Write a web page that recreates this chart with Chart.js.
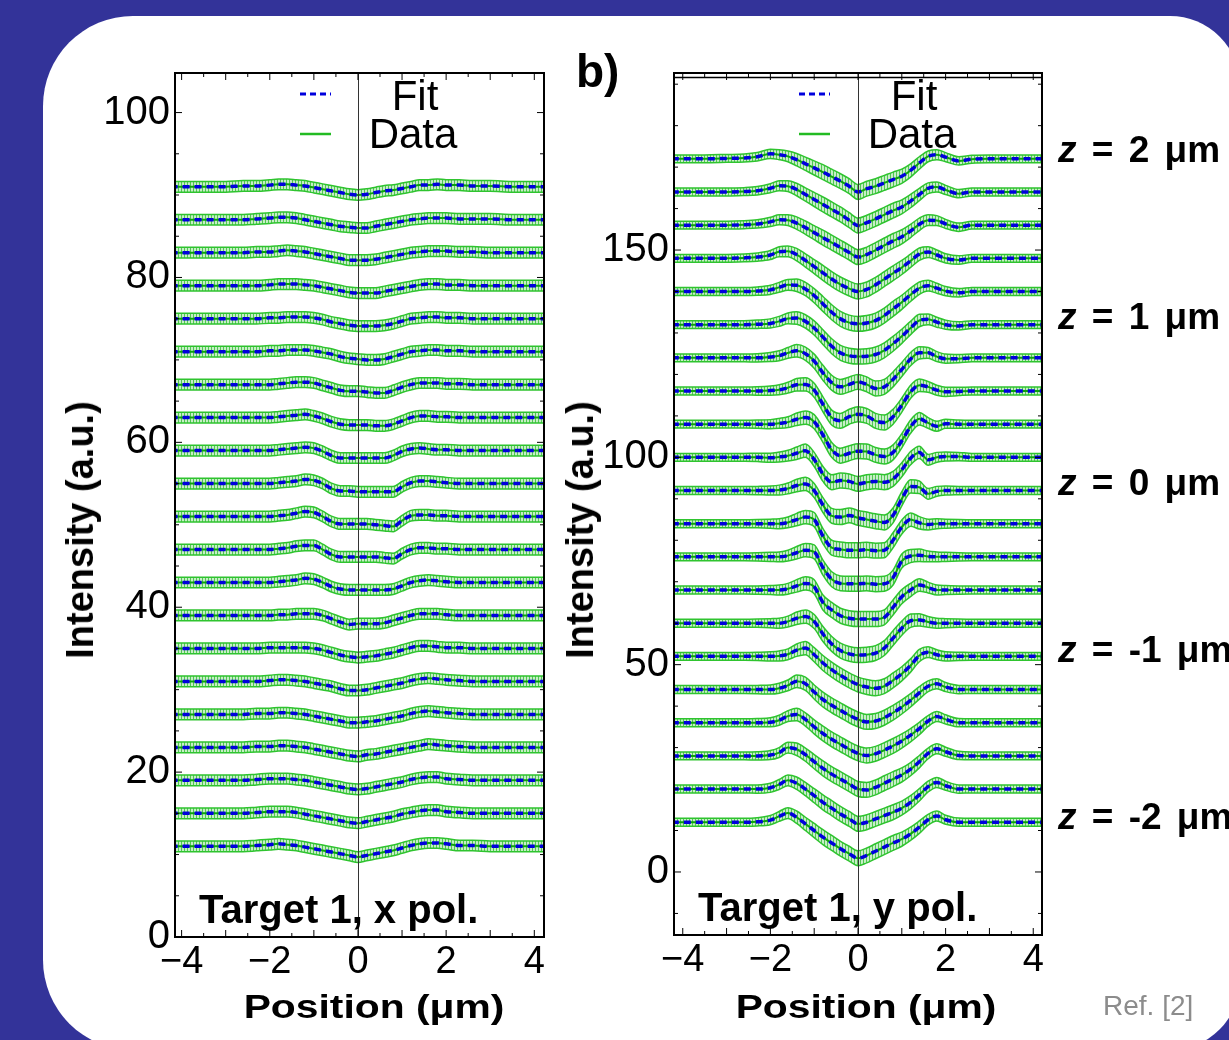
<!DOCTYPE html>
<html>
<head>
<meta charset="utf-8">
<script src="https://cdn.jsdelivr.net/npm/chart.js@4.4.0/dist/chart.umd.min.js"></script>
<style>
  html, body { margin: 0; padding: 0; }
  body {
    width: 1229px; height: 1040px; overflow: hidden; position: relative;
    background: #333399; font-family: "Liberation Sans", Arial, sans-serif;
  }
  .panel {
    position: absolute; left: 43px; top: 16px; width: 1197px; height: 1034px;
    background: #fff; border-radius: 90px 70px 70px 90px;
  }
  .box { position: absolute; top: 40px; }
  .t { position: absolute; white-space: nowrap; line-height: 1; color: #000; }
  .b { font-weight: bold; }
  .ytitle { font-size: 38px; transform: translate(-50%, -50%) rotate(-90deg); }
  .xtitle { font-size: 34px; transform: translate(-50%, -50%) scaleX(1.2); }
  .z { left: 1058px; font-size: 37px; word-spacing: 5px; }
  .ref { left: 1103px; top: 992px; font-size: 28px; color: #8c8c8c; }
</style>
</head>
<body>
<div class="panel"></div>
<div class="box" style="left:40px"><canvas id="xpol" width="530" height="1000"></canvas></div>
<div class="box" style="left:590px"><canvas id="ypol" width="480" height="1000"></canvas></div>

<div class="t b" style="left:576px;top:48px;font-size:46px">b)</div>
<div class="t b ytitle" style="left:80px;top:530px">Intensity (a.u.)</div>
<div class="t b ytitle" style="left:580px;top:530px">Intensity (a.u.)</div>
<div class="t b xtitle" style="left:374px;top:1006px">Position (μm)</div>
<div class="t b xtitle" style="left:866px;top:1006px">Position (μm)</div>
<div class="t b z" style="top:131px"><i>z</i> = 2 μm</div>
<div class="t b z" style="top:298px"><i>z</i> = 1 μm</div>
<div class="t b z" style="top:464px"><i>z</i> = 0 μm</div>
<div class="t b z" style="top:631px"><i>z</i> = -1 μm</div>
<div class="t b z" style="top:798px"><i>z</i> = -2 μm</div>
<div class="t ref">Ref. [2]</div>

<script>
// sample positions (µm) shared by every trace
const positionsUm = [-4.25, -3.5, -3, -2.6, -2.3, -2, -1.8, -1.6, -1.4, -1.2, -1, -0.8, -0.6, -0.4, -0.2, 0,
  0.2, 0.4, 0.6, 0.8, 1, 1.2, 1.4, 1.6, 1.8, 2, 2.3, 2.6, 3, 3.5, 4.25];

// baseline of each trace, bottom to top
const xPolOffsets = [11, 15, 19, 23, 27, 31, 35, 39, 43, 47, 51, 55, 59, 63, 67, 71, 75, 79, 83, 87, 91];
const yPolOffsets = [12, 20, 28, 36, 44, 52, 60, 68, 76, 84, 92, 100, 108, 116, 124, 132, 140, 148, 156, 164, 172];

// deviation from baseline at each position, bottom trace first
const xPolProfiles = [
  [0,0,0,0,0.1,0.2,0.3,0.2,0.1,-0.1,-0.3,-0.5,-0.7,-0.9,-1.1,-1.3,-1.1,-0.9,-0.7,-0.5,-0.2,0.1,0.3,0.4,0.4,0.3,0.1,0.1,0,0,0],
  [0,0,0,0,0.1,0.2,0.2,0.2,0.1,-0.1,-0.3,-0.5,-0.7,-0.9,-1.1,-1.2,-1.0,-0.8,-0.6,-0.4,-0.1,0.1,0.3,0.4,0.4,0.2,0.1,0,0,0,0],
  [0,0,0,0,0.1,0.2,0.2,0.2,0.1,0,-0.2,-0.4,-0.6,-0.8,-1.0,-1.1,-1.0,-0.8,-0.6,-0.4,-0.2,0.1,0.3,0.4,0.4,0.2,0.1,0,0,0,0],
  [0,0,0,0,0.1,0.1,0.2,0.2,0.1,0,-0.2,-0.4,-0.6,-0.8,-1.0,-1.1,-0.9,-0.8,-0.6,-0.4,-0.2,0,0.2,0.4,0.3,0.2,0.1,0,0,0,0],
  [0,0,0,0,0.1,0.1,0.2,0.2,0.1,0,-0.2,-0.4,-0.6,-0.8,-1.0,-1.0,-0.9,-0.8,-0.6,-0.4,-0.2,0.1,0.3,0.4,0.3,0.2,0.1,0,0,0,0],
  [0,0,0,0,0,0.1,0.2,0.2,0.1,0,-0.2,-0.4,-0.6,-0.9,-1.1,-1.1,-1.0,-0.8,-0.6,-0.4,-0.2,0.1,0.3,0.4,0.3,0.2,0.1,0,0,0,0],
  [0,0,0,0,0,0.1,0.1,0.1,0.1,0.1,0,-0.2,-0.5,-0.8,-1.0,-1.1,-1.0,-0.9,-0.7,-0.5,-0.2,0.1,0.3,0.3,0.2,0.1,0.1,0,0,0,0],
  [0,0,0,0,0,0,0.1,0.1,0.2,0.2,0.2,0,-0.4,-0.8,-1.1,-1.0,-1.0,-1.0,-0.9,-0.6,-0.3,0,0.2,0.2,0.2,0.1,0,0,0,0,0],
  [0,0,0,0,0,0,0.1,0.2,0.3,0.5,0.4,0,-0.5,-0.8,-0.9,-0.9,-0.9,-0.9,-0.9,-0.8,-0.4,0,0.2,0.3,0.2,0.1,0,0,0,0,0],
  [0,0,0,0,0,0,0.1,0.2,0.4,0.5,0.5,0,-0.6,-0.9,-0.9,-0.9,-0.9,-0.9,-1.0,-1.1,-0.5,0,0.2,0.2,0.1,0.1,0,0,0,0,0],
  [0,0,0,0,0,0,0.1,0.2,0.4,0.6,0.5,0,-0.6,-0.9,-0.9,-0.9,-0.9,-1.0,-1.1,-1.2,-0.5,0.1,0.2,0.2,0.1,0.1,0,0,0,0,0],
  [0,0,0,0,0,0,0.1,0.2,0.3,0.5,0.4,0,-0.6,-0.9,-0.9,-1.0,-1.0,-1.0,-1.0,-1.0,-0.4,0.1,0.3,0.3,0.2,0.1,0,0,0,0,0],
  [0,0,0,0,0,0,0.1,0.2,0.3,0.4,0.3,-0.1,-0.6,-0.9,-0.9,-0.9,-0.9,-0.9,-0.9,-0.6,-0.1,0.2,0.3,0.2,0.1,0.1,0,0,0,0,0],
  [0,0,0,0,0,0,0.1,0.2,0.3,0.4,0.2,-0.1,-0.5,-0.8,-0.9,-0.9,-0.9,-1.0,-1.0,-0.8,-0.4,0,0.2,0.2,0.1,0.1,0,0,0,0,0],
  [0,0,0,0,0,0,0.1,0.2,0.3,0.3,0.2,-0.1,-0.4,-0.7,-0.8,-0.8,-0.9,-1.0,-1.0,-0.7,-0.3,0,0.2,0.2,0.2,0.1,0.1,0,0,0,0],
  [0,0,0,0,0,0.1,0.1,0.2,0.2,0.2,0.1,-0.1,-0.3,-0.6,-0.8,-0.9,-1.0,-1.0,-0.9,-0.6,-0.3,0,0.1,0.2,0.2,0.1,0.1,0,0,0,0],
  [0,0,0,0,0,0.1,0.1,0.2,0.2,0.2,0.1,-0.1,-0.4,-0.6,-0.8,-0.9,-0.9,-0.9,-0.8,-0.6,-0.3,0,0.1,0.2,0.2,0.1,0.1,0,0,0,0],
  [0,0,0,0,0,0.1,0.2,0.2,0.2,0.1,0,-0.2,-0.4,-0.6,-0.8,-0.9,-0.9,-0.9,-0.7,-0.5,-0.3,-0.1,0.1,0.2,0.2,0.1,0.1,0,0,0,0],
  [0,0,0,0,0.1,0.1,0.2,0.3,0.2,0.1,-0.1,-0.3,-0.5,-0.7,-0.9,-0.9,-0.9,-0.8,-0.6,-0.4,-0.2,0,0.1,0.2,0.2,0.2,0.1,0.1,0,0,0],
  [0,0,0,0,0.1,0.2,0.3,0.3,0.2,0,-0.2,-0.4,-0.6,-0.8,-0.9,-1.0,-1.0,-0.8,-0.6,-0.4,-0.2,0,0.1,0.2,0.2,0.2,0.1,0.1,0.1,0,0],
  [0,0,0,0.1,0.1,0.2,0.3,0.3,0.2,0.1,-0.1,-0.3,-0.5,-0.7,-0.9,-1.0,-0.9,-0.7,-0.5,-0.4,-0.2,0,0.2,0.2,0.3,0.2,0.2,0.1,0.1,0,0]
];

const yPolProfiles = [
  [0,0,0,0,0.1,0.5,1.4,2.2,1.2,-0.4,-2.0,-3.6,-5.0,-6.4,-7.6,-8.7,-8.0,-7.0,-6.0,-5.0,-4.1,-2.8,-1.2,0.6,1.5,0.6,0,0,0,0,0],
  [0,0,0,0,0,0.3,1.1,2.1,1.4,0,-1.6,-3.2,-4.6,-6.0,-7.2,-8.4,-8.0,-7.2,-6.4,-5.6,-4.6,-3.2,-1.4,0.6,1.6,0.8,0,0,0,0,0],
  [0,0,0,0,0,0.2,0.8,2.0,1.6,0.3,-1.4,-3.0,-4.4,-5.6,-6.8,-8.0,-8.2,-7.6,-6.6,-5.6,-4.6,-3.2,-1.4,0.6,1.7,1.0,0.1,0,0,0,0],
  [0,0,0,0,0,0.1,0.6,1.6,2.0,0.8,-1.0,-2.6,-4.0,-5.2,-6.4,-7.4,-7.9,-7.5,-6.6,-5.6,-4.4,-3.0,-1.4,0.4,1.5,0.8,0,0,0,0,0],
  [0,0,0,0,0,0,0.3,1.0,2.0,1.4,-0.6,-2.4,-3.8,-5.0,-6.2,-7.2,-7.8,-7.6,-6.8,-5.6,-4.2,-2.6,-0.8,0.8,1.4,0.6,0,0,0,0,0],
  [0,0,0,0,0,0,0.1,0.5,1.5,2.0,0.4,-1.6,-3.2,-4.6,-5.8,-6.8,-7.4,-7.7,-7.2,-5.8,-4.2,-2.2,0.2,1.0,0.4,0,0,0,0,0,0],
  [0,0,0,0,0,0,0,0.4,1.2,1.6,0.4,-2.6,-5.0,-6.6,-7.4,-7.7,-7.6,-7.2,-6.0,-3.6,-1.2,0.6,0.8,0.3,0,0,0,0,0,0,0],
  [0,0,0,0,0,0,0,0.3,1.0,1.6,0.8,-3.0,-4.8,-6.2,-6.8,-7.0,-7.0,-7.0,-6.6,-4.2,-1.6,0,1.2,0.6,0,0,0,0,0,0,0],
  [0,0,0,0,0,0,0,0.3,1.0,1.6,1.2,-2.6,-5.4,-6.4,-6.5,-6.5,-6.4,-6.6,-6.5,-5.0,-1.0,0.2,0.4,0.1,0,0,0,0,0,0,0],
  [0,0,0,0,0,0,0,0.3,1.0,1.6,1.0,-3.0,-5.8,-6.2,-6.4,-6.4,-6.3,-6.5,-6.4,-4.0,-0.8,1.0,0.2,-0.2,0,0,0,0,0,0,0],
  [0,0,0,0,0,0,0.1,0.5,1.2,1.6,0,-3.5,-6.1,-6.4,-6.0,-6.6,-7.0,-7.4,-7.7,-6.0,-2.0,1.0,0.8,-0.8,-0.2,0,0,0,0,0,0],
  [0,0,0,0,0,-0.1,0.1,0.4,1.0,1.6,-0.5,-4.0,-6.0,-5.6,-5.8,-6.4,-6.0,-5.8,-6.0,-5.2,-3.0,-0.2,1.2,-0.6,0,0.2,0.2,0,0,0,0],
  [0,0,0,0,0,0,0.2,0.5,1.2,1.6,0.6,-2.6,-6.2,-7.6,-7.0,-6.5,-6.6,-7.4,-7.8,-6.8,-4.0,-0.6,1.3,0.3,-0.5,0.1,0,0,0,0,0],
  [0,0,0,0,0,0.1,0.3,0.8,1.5,1.6,0.2,-3.2,-6.4,-7.2,-6.2,-5.6,-6.0,-7.2,-7.6,-6.2,-3.4,-0.2,1.4,1.0,0.2,-0.2,-0.1,0,0,0,0],
  [0,0,0,0,0,0.2,0.5,1.2,1.7,1.0,-0.8,-3.6,-6.0,-7.0,-6.4,-5.8,-6.4,-7.4,-7.0,-5.2,-2.8,-0.3,1.2,1.2,0.3,-0.2,-0.2,0,0,0,0],
  [0,0,0,0,0.1,0.3,0.8,1.5,1.6,0.8,-0.8,-3.0,-5.2,-6.8,-7.5,-7.7,-7.6,-7.2,-6.2,-4.6,-2.8,-0.8,1.0,1.3,0.6,0,-0.3,0,0,0,0],
  [0,0,0,0,0.1,0.4,1.0,1.6,1.5,0.6,-1.0,-3.0,-5.0,-6.6,-7.5,-7.8,-7.6,-7.0,-5.8,-4.2,-2.6,-0.8,0.8,1.4,0.8,0.1,-0.3,0,0,0,0],
  [0,0,0,0.1,0.3,0.8,1.6,1.7,0.9,-0.5,-2.0,-3.5,-5.0,-6.3,-7.3,-8.0,-7.5,-6.4,-5.0,-3.6,-2.2,-0.6,1.0,1.5,0.8,0,-0.4,0,0,0,0],
  [0,0,0,0.1,0.3,0.8,1.3,1.2,0.5,-0.6,-1.8,-3.0,-4.2,-5.4,-6.6,-7.7,-7.1,-6.0,-4.9,-3.8,-2.8,-1.4,0.2,1.2,1.1,0.3,-0.5,0,0,0,0],
  [0,0,0,0.1,0.3,0.9,1.5,1.4,0.6,-0.6,-1.8,-3.0,-4.2,-5.4,-6.8,-8.1,-7.4,-6.5,-5.5,-4.5,-3.6,-2.2,-0.6,0.9,1.2,0.5,-0.4,0,0,0,0],
  [0,0,0.1,0.2,0.5,1.2,1.0,0.6,-0.2,-1.2,-2.2,-3.2,-4.3,-5.4,-6.6,-8.0,-7.2,-6.6,-5.8,-5.0,-4.2,-2.8,-1.0,0.6,1.0,0.4,-0.5,-0.1,0,0,0]
];

// half height of the error bars
const xPolErrors = [0.65,0.65,0.65,0.65,0.65,0.65,0.65,0.65,0.65,0.65,0.65,0.65,0.65,0.65,0.65,0.65,0.65,0.65,0.65,0.65,0.65,0.65,0.65,0.65,0.65,0.65,0.65,0.65,0.65,0.65,0.65];
const yPolErrors = [0.95,0.95,0.95,0.95,1.0,1.1,1.2,1.3,1.5,1.6,1.7,1.8,1.8,1.8,1.8,1.8,1.8,1.8,1.8,1.8,1.7,1.6,1.5,1.3,1.2,1.1,1.0,0.95,0.95,0.95,0.95];

const bandEdge = "#2fc42f";
const dataGreen = "#0ca40c";
const fitBlue = "#0000dd";

Chart.defaults.font.family = '"Liberation Sans", Arial, sans-serif';
Chart.defaults.color = "#000";

// light green with vertical strokes, like a dense row of error bars
function makeHatch(ctx) {
  const c = document.createElement("canvas");
  c.width = 3;
  c.height = 4;
  const g = c.getContext("2d");
  g.fillStyle = "#c6efc6";
  g.fillRect(0, 0, 3, 4);
  g.fillStyle = "#52c752";
  g.fillRect(0, 0, 1, 4);
  return ctx.createPattern(c, "repeat");
}

function traceSets(offsets, profiles, errors, hatch) {
  const sets = [];
  offsets.forEach((base, k) => {
    const mid = positionsUm.map((x, i) => ({ x: x, y: base + profiles[k][i] }));
    const hi = mid.map((p, i) => ({ x: p.x, y: p.y + errors[i] }));
    const lo = mid.map((p, i) => ({ x: p.x, y: p.y - errors[i] }));
    sets.push({ data: hi, borderColor: bandEdge, borderWidth: 1.5, fill: false, order: 3 });
    sets.push({ data: lo, borderColor: bandEdge, borderWidth: 1.5, fill: "-1", backgroundColor: hatch, order: 3 });
    sets.push({ data: mid.map(p => ({ ...p })), borderColor: dataGreen, borderWidth: 2, fill: false, order: 2 });
    sets.push({ data: mid.map(p => ({ ...p })), borderColor: fitBlue, borderWidth: 3.5, borderDash: [7, 5], fill: false, order: 1 });
  });
  return sets;
}

// frame, inward ticks, zero line, legend and panel note
const decor = {
  id: "decor",
  afterDatasetsDraw(chart, args, opts) {
    const { ctx, chartArea: a, scales: { x, y } } = chart;
    const seg = (x1, y1, x2, y2) => { ctx.beginPath(); ctx.moveTo(x1, y1); ctx.lineTo(x2, y2); ctx.stroke(); };
    ctx.save();

    ctx.strokeStyle = "#333";
    ctx.lineWidth = 1;
    const x0 = Math.round(x.getPixelForValue(0)) + 0.5;
    seg(x0, a.top, x0, a.bottom);

    ctx.strokeStyle = "#000";
    for (let i = Math.ceil(x.min / 0.5); i * 0.5 <= x.max; i++) {
      const px = x.getPixelForValue(i * 0.5);
      const len = i % 2 === 0 ? 7 : 4;
      seg(px, a.bottom, px, a.bottom - len);
      seg(px, a.top, px, a.top + len);
    }
    for (let i = Math.ceil(y.min / opts.yMinor); i * opts.yMinor <= y.max; i++) {
      const py = y.getPixelForValue(i * opts.yMinor);
      const len = (i * opts.yMinor) % opts.yMajor === 0 ? 7 : 4;
      seg(a.left, py, a.left + len, py);
      seg(a.right, py, a.right - len, py);
    }

    ctx.lineWidth = 2;
    ctx.strokeRect(a.left, a.top, a.right - a.left, a.bottom - a.top);
    if (opts.doubleTop) {
      ctx.lineWidth = 1.5;
      seg(a.left, a.top + 4.5, a.right, a.top + 4.5);
    }

    // legend
    ctx.lineWidth = 3;
    ctx.strokeStyle = fitBlue;
    ctx.setLineDash([6, 4]);
    seg(a.left + 125, a.top + 21, a.left + 156, a.top + 21);
    ctx.setLineDash([]);
    ctx.lineWidth = 2.5;
    ctx.strokeStyle = "#22bb22";
    seg(a.left + 125, a.top + 61, a.left + 156, a.top + 61);
    ctx.fillStyle = "#000";
    ctx.textAlign = "center";
    ctx.textBaseline = "alphabetic";
    ctx.font = '42px "Liberation Sans", Arial, sans-serif';
    ctx.fillText("Fit", a.left + 240, a.top + 37);
    ctx.fillText("Data", a.left + 238, a.top + 75);

    ctx.textAlign = "left";
    ctx.font = 'bold 40px "Liberation Sans", Arial, sans-serif';
    ctx.fillText(opts.note, a.left + 24, a.bottom - 14);
    ctx.restore();
  }
};

const fmtPos = v => (v < 0 ? "\u2212" + Math.abs(v) : String(v));

function makeChart(id, c) {
  const ctx = document.getElementById(id).getContext("2d");
  return new Chart(ctx, {
    type: "line",
    data: { datasets: traceSets(c.offsets, c.profiles, c.errors, makeHatch(ctx)) },
    options: {
      responsive: false,
      animation: false,
      events: [],
      layout: { padding: c.padding },
      elements: {
        point: { radius: 0 },
        line: { cubicInterpolationMode: "monotone" }
      },
      plugins: {
        legend: { display: false },
        tooltip: { enabled: false },
        decor: c.decor
      },
      scales: {
        x: {
          type: "linear",
          min: c.xMin,
          max: c.xMax,
          afterFit: s => { s.height = c.xAxisHeight; },
          grid: { display: false, drawTicks: false },
          border: { display: false },
          ticks: {
            stepSize: 2, includeBounds: false, padding: 3, maxRotation: 0, autoSkip: false,
            font: { size: 38 }, callback: fmtPos
          }
        },
        y: {
          type: "linear",
          min: c.yMin,
          max: c.yMax,
          afterFit: s => { s.width = c.yAxisWidth; },
          grid: { display: false, drawTicks: false },
          border: { display: false },
          ticks: { stepSize: c.yStep, includeBounds: false, padding: 5, font: { size: 40 } }
        }
      }
    },
    plugins: [decor]
  });
}

makeChart("xpol", {
  offsets: xPolOffsets, profiles: xPolProfiles, errors: xPolErrors,
  padding: { top: 33, right: 26, left: 0, bottom: 0 },
  xMin: -4.15, xMax: 4.22, xAxisHeight: 103,
  yMin: 0, yMax: 104.8, yStep: 20, yAxisWidth: 135,
  decor: { yMinor: 5, yMajor: 20, note: "Target 1, x pol.", doubleTop: false }
});

makeChart("ypol", {
  offsets: yPolOffsets, profiles: yPolProfiles, errors: yPolErrors,
  padding: { top: 33, right: 28, left: 0, bottom: 0 },
  xMin: -4.2, xMax: 4.2, xAxisHeight: 105,
  yMin: -15.2, yMax: 192.7, yStep: 50, yAxisWidth: 84,
  decor: { yMinor: 10, yMajor: 50, note: "Target 1, y pol.", doubleTop: true }
});
</script>
</body>
</html>
